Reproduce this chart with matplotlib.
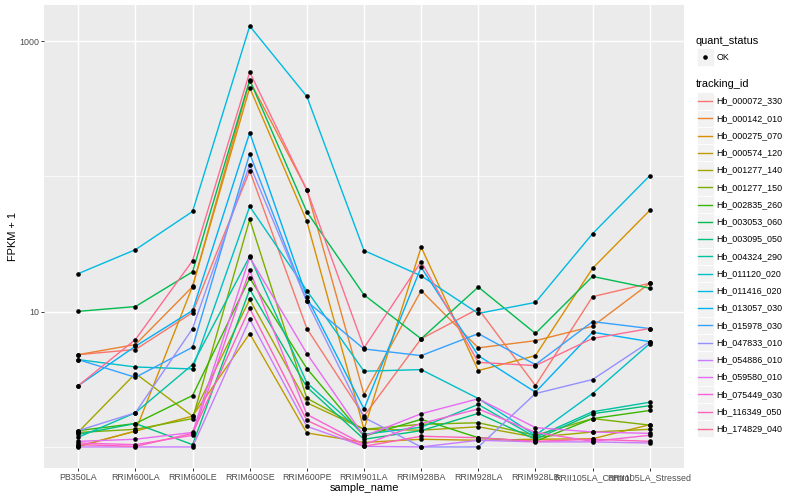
import matplotlib
matplotlib.use("Agg")
import matplotlib.pyplot as plt
import numpy as np
from matplotlib.patches import Rectangle
from matplotlib.lines import Line2D

plt.rcParams['font.family'] = ['Liberation Sans', 'DejaVu Sans']

samples = ["PB350LA", "RRIM600LA", "RRIM600LE", "RRIM600SE", "RRIM600PE",
           "RRIM901LA", "RRIM928BA", "RRIM928LA", "RRIM928LB",
           "RRII105LA_Control", "RRII105LA_Stressed"]

tracking_ids = ["Hb_000072_330", "Hb_000142_010", "Hb_000275_070", "Hb_000574_120",
                "Hb_001277_140", "Hb_001277_150", "Hb_002835_260", "Hb_003053_060",
                "Hb_003095_050", "Hb_004324_290", "Hb_011120_020", "Hb_011416_020",
                "Hb_013057_030", "Hb_015978_030", "Hb_047833_010", "Hb_054886_010",
                "Hb_059580_010", "Hb_075449_030", "Hb_116349_050", "Hb_174829_040"]

colors = ["#F8766D", "#EA8331", "#D89000", "#C09B00", "#A3A500", "#7CAE00",
          "#39B600", "#00BB4E", "#00BF7D", "#00C1A3", "#00BFC4", "#00BAE0",
          "#00B0F6", "#35A2FF", "#9590FF", "#C77CFF", "#E76BF3", "#FA62DB",
          "#FF62BC", "#FF6C91"]

# FPKM + 1 values per tracking_id, in sample order
hb_000072_330 = [4.81, 5.25, 9.84, 110, 7.5, 1.69, 6.3, 10.5, 2.84, 12.9, 16.2]
hb_000142_010 = [4.81, 5.71, 15.3, 509, 79.4, 2.44, 14.3, 5.40, 6.10, 7.79, 16.2]
hb_000275_070 = [1.01, 1.31, 15.4, 452, 46.5, 1.35, 30.0, 3.67, 4.73, 20.9, 56.0]
hb_000574_120 = [1.01, 1.31, 1.69, 6.88, 1.27, 1.08, 1.14, 1.12, 1.14, 1.15, 1.46]
hb_001277_140 = [1.29, 3.49, 1.69, 12.3, 2.12, 1.35, 1.33, 1.41, 1.18, 1.29, 1.35]
hb_001277_150 = [1.28, 1.35, 1.62, 48.0, 2.29, 1.35, 1.47, 1.51, 1.22, 1.62, 1.45]
hb_002835_260 = [1.32, 1.49, 2.40, 17.7, 3.80, 1.20, 1.60, 1.17, 1.10, 1.62, 1.86]
hb_003053_060 = [10.05, 10.9, 19.7, 515, 54.6, 13.3, 6.3, 15.2, 6.9, 18.2, 14.9]
hb_003095_050 = [1.24, 1.49, 1.04, 14.6, 2.77, 1.14, 1.32, 1.77, 1.14, 1.76, 2.02]
hb_004324_290 = [1.18, 1.79, 4.06, 25.6, 2.98, 1.24, 1.40, 2.06, 1.18, 1.82, 2.14]
hb_011120_020 = [4.42, 3.90, 3.77, 59.9, 14.3, 3.63, 3.73, 2.28, 1.22, 2.48, 5.8]
hb_011416_020 = [19.1, 28.7, 55.0, 1290, 389, 28.3, 18.4, 9.7, 11.7, 37.7, 101]
hb_013057_030 = [2.84, 5.55, 10.2, 210, 12.8, 1.91, 21.3, 4.73, 2.54, 7.05, 6.0]
hb_015978_030 = [4.42, 3.27, 5.46, 147, 11.9, 5.3, 4.73, 6.88, 4.06, 8.44, 7.5]
hb_047833_010 = [1.32, 1.79, 7.5, 122, 11.9, 1.65, 1.0, 1.0, 2.48, 3.15, 6.0]
hb_054886_010 = [1.0, 1.0, 1.0, 8.78, 1.42, 1.01, 1.0, 1.12, 1.09, 1.09, 1.07]
hb_059580_010 = [1.10, 1.14, 1.28, 25.2, 4.90, 1.20, 1.76, 2.27, 1.39, 1.29, 1.26]
hb_075449_030 = [1.07, 1.04, 1.22, 20.2, 1.74, 1.04, 1.49, 1.91, 1.28, 1.10, 1.22]
hb_116349_050 = [1.04, 1.01, 1.26, 10.6, 1.57, 1.01, 1.20, 1.17, 1.10, 1.14, 1.10]
hb_174829_040 = [2.84, 6.22, 23.8, 589, 79.4, 5.40, 23.4, 4.22, 3.99, 6.34, 7.5]

series = [hb_000072_330, hb_000142_010, hb_000275_070, hb_000574_120, hb_001277_140,
          hb_001277_150, hb_002835_260, hb_003053_060, hb_003095_050, hb_004324_290,
          hb_011120_020, hb_011416_020, hb_013057_030, hb_015978_030, hb_047833_010,
          hb_054886_010, hb_059580_010, hb_075449_030, hb_116349_050, hb_174829_040]

W, H = 800, 500
fig = plt.figure(figsize=(8, 5), dpi=100)
fig.patch.set_facecolor("white")

def fx(px):
    return px / W

def fy(py):
    return 1 - py / H

ax = fig.add_axes([fx(44), fy(468), fx(684) - fx(44), fy(5) - fy(468)])
ax.set_facecolor("#EBEBEB")
for s in ax.spines.values():
    s.set_visible(False)

x = np.arange(len(samples))
for vals, c in zip(series, colors):
    ax.plot(x, vals, color=c, lw=1.0, zorder=3, solid_capstyle="butt")
for vals in series:
    ax.plot(x, vals, linestyle="none", marker="o", ms=3.3, color="black",
            mec="black", mew=0, zorder=4)

ax.set_yscale("log")
allv = np.concatenate([np.asarray(v, float) for v in series])
lo, hi = np.log10(allv.min()), np.log10(allv.max())
pad = 0.05 * (hi - lo)
ax.set_ylim(10 ** (lo - pad), 10 ** (hi + pad))
ax.set_xlim(-0.6, len(samples) - 1 + 0.6)

ax.set_yticks([10, 1000])
ax.set_yticklabels(["10", "1000"])
ax.set_yticks([1, 100], minor=True)
ax.yaxis.set_minor_formatter(matplotlib.ticker.NullFormatter())
ax.set_xticks(x)
ax.set_xticklabels(samples)

ax.grid(which="major", color="white", lw=1.05, zorder=0)
ax.grid(which="minor", axis="y", color="white", lw=0.5, zorder=0)
ax.set_axisbelow(True)

ax.tick_params(axis="both", which="major", length=2.0, width=0.7, color="#333333",
               labelsize=6.4, labelcolor="#4D4D4D", pad=1.6)
ax.tick_params(axis="y", which="minor", length=0)

ax.set_xlabel("sample_name", fontsize=7.9, color="black")
ax.set_ylabel("FPKM + 1", fontsize=7.9, color="black")
ax_w, ax_h = 640.0, 463.0
ax.xaxis.set_label_coords(0.5, -(488 - 468) / ax_h)
ax.yaxis.set_label_coords(-(44 - 13) / ax_w, 0.5)
ax.xaxis.label.set_va("center")
ax.yaxis.label.set_va("center")

# Legends (ggplot style)
key_w = 17
key_x0 = 696.5
txt_size = 6.4
title_size = 7.9

fig.text(fx(696), fy(40.5), "quant_status", fontsize=title_size, va="center", ha="left")
fig.patches.append(Rectangle((fx(key_x0), fy(65.5)), fx(key_w), fy(48.5) - fy(65.5),
                             transform=fig.transFigure, facecolor="#F2F2F2",
                             edgecolor="white", lw=0.5, figure=fig))
fig.lines.append(Line2D([fx(key_x0 + key_w / 2)], [fy(57)], marker="o", ms=3.3,
                        color="black", mew=0, transform=fig.transFigure, figure=fig))
fig.text(fx(716.5), fy(57), "OK", fontsize=txt_size, va="center", ha="left")

fig.text(fx(696), fy(84.3), "tracking_id", fontsize=title_size, va="center", ha="left")
step = 17.25
for i, (tid, c) in enumerate(zip(tracking_ids, colors)):
    yc = 101 + i * step
    fig.patches.append(Rectangle((fx(key_x0), fy(yc + step / 2)), fx(key_w),
                                 fy(yc - step / 2) - fy(yc + step / 2),
                                 transform=fig.transFigure, facecolor="#F2F2F2",
                                 edgecolor="white", lw=0.6, figure=fig))
    fig.lines.append(Line2D([fx(key_x0 + 1.7), fx(key_x0 + key_w - 1.7)], [fy(yc), fy(yc)],
                            color=c, lw=1.0, transform=fig.transFigure, figure=fig))
    fig.text(fx(716.5), fy(yc), tid, fontsize=txt_size, va="center", ha="left")

fig.savefig("out.png", dpi=100)
